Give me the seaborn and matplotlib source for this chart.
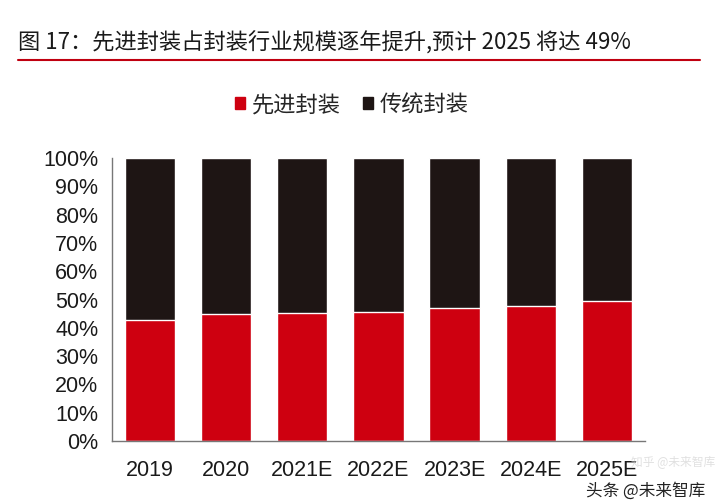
import pandas as pd
import matplotlib
matplotlib.use("Agg")
import matplotlib.pyplot as plt
import seaborn as sns
from matplotlib.patches import Patch
from matplotlib.lines import Line2D

# data
years = ['2019', '2020', '2021E', '2022E', '2023E', '2024E', '2025E']
advanced = [42.7, 44.9, 45.3, 45.7, 46.9, 47.8, 49.4]
traditional = [100 - v for v in advanced]

df = pd.DataFrame({'year': years, 'advanced': advanced, 'traditional': traditional})
df['total'] = df['advanced'] + df['traditional']

red = '#CE0010'
dark = '#1E1514'

sns.set_style('white')
plt.rcParams['font.family'] = ['Liberation Sans', 'Noto Sans CJK SC', 'DejaVu Sans']

fig = plt.figure(figsize=(7.2, 5.04), dpi=100)
ax = fig.add_axes([0.1556, 0.125, 0.740, 0.5615])

sns.barplot(data=df, x='year', y='total', color=dark, width=0.66, saturation=1, ax=ax)
sns.barplot(data=df, x='year', y='advanced', color=red, width=0.66, saturation=1, ax=ax)

ax.set_ylim(0, 100)
ax.set_xlim(-0.5, len(years) - 0.5)
ax.set_yticks(range(0, 101, 10))
ax.set_yticklabels([f'{v}%' for v in range(0, 101, 10)], fontsize=15.5)
ax.set_xticks(range(len(years)))
ax.set_xticklabels(years, fontsize=15.5)
ax.set_xlabel('')
ax.set_ylabel('')

# x tick marks sit between categories
ax.set_xticks([i - 0.5 for i in range(len(years) + 1)], minor=True)
ax.tick_params(axis='x', which='major', length=0, pad=14)
ax.tick_params(axis='x', which='minor', length=6, direction='out', color='#777777')
ax.tick_params(axis='y', length=6, direction='out', color='#777777', pad=4)
ax.tick_params(axis='both', colors='#777777', labelcolor='#1a1a1a')

for s in ['top', 'right']:
    ax.spines[s].set_visible(False)
for s in ['left', 'bottom']:
    ax.spines[s].set_color('#777777')
    ax.spines[s].set_linewidth(1.0)

# legend
handles = [Patch(facecolor=red, edgecolor=red), Patch(facecolor=dark, edgecolor=dark)]
fig.legend(handles, ['先进封装', '传统封装'], loc='center', bbox_to_anchor=(0.489, 0.792),
           ncol=2, frameon=False, handlelength=0.45, handleheight=0.45,
           handletextpad=0.3, columnspacing=1.0,
           prop={'family': ['Noto Sans CJK SC'], 'size': 16})

# title and underline
fig.text(0.025, 0.915, '图 17：先进封装占封装行业规模逐年提升,预计 2025 将达 49%',
         fontsize=16, family=['Noto Sans CJK SC', 'DejaVu Sans'], color='#1a1a1a', va='center')
fig.add_artist(Line2D([0.025, 0.972], [0.881, 0.881], color='#C00010', linewidth=1.5))

# watermark
fig.text(0.98, 0.026, '头条 @未来智库', fontsize=12, ha='right', va='center',
         family=['Noto Sans CJK SC'], color='#222222')
fig.text(0.994, 0.082, '知乎 @未来智库', fontsize=8.5, ha='right', va='center',
         family=['Noto Sans CJK SC'], color='#cccccc', alpha=0.6)

fig.savefig('out.png', dpi=100, facecolor='white')
